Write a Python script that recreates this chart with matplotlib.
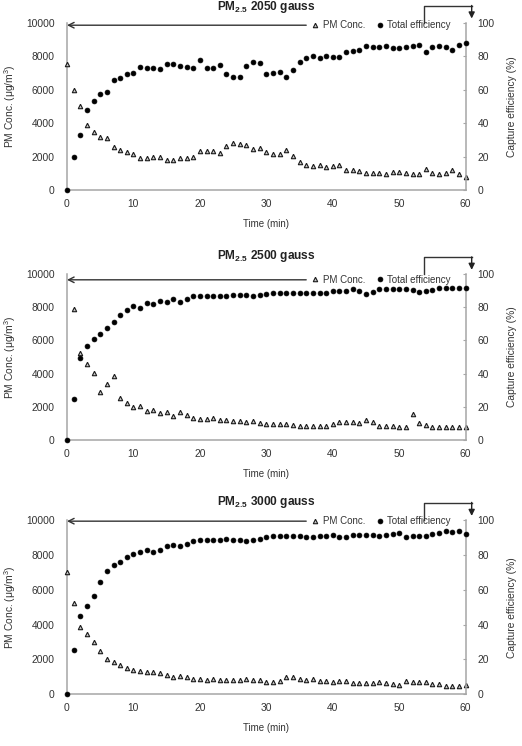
import numpy as np
import matplotlib
matplotlib.use("Agg")
from matplotlib import pyplot as plt

plt.rcParams["font.family"] = ["Liberation Sans", "DejaVu Sans"]
plt.rcParams["mathtext.fontset"] = "custom"
plt.rcParams["mathtext.rm"] = "Liberation Sans"
plt.rcParams["mathtext.it"] = "Liberation Sans:italic"
plt.rcParams["mathtext.bf"] = "Liberation Sans:bold"

time_min = list(range(0, 61))

titles = ["2050 gauss", "2500 gauss", "3000 gauss"]

pm_2050 = [7550, 6000, 5000, 3860, 3450, 3170, 3080, 2550, 2420, 2260, 2170,
	1930, 1930, 1980, 2000, 1780, 1780, 1890, 1890, 1980, 2340,
	2340, 2340, 2230, 2610, 2780, 2720, 2680, 2450, 2490, 2250,
	2170, 2130, 2370, 2050, 1690, 1510, 1450, 1510, 1390, 1450,
	1510, 1220, 1200, 1120, 1000, 1040, 1000, 980, 1080, 1080,
	1040, 980, 940, 1240, 1020, 980, 1000, 1180, 940, 800]
eff_2050 = [0, 20, 33, 48, 53.4, 57.2, 58.4, 65.6, 67.1, 69.3, 69.7,
	73.4, 73.1, 72.7, 72.3, 75.2, 75.2, 74.1, 73.7, 73.1, 78.0,
	73.1, 73.1, 74.5, 69.5, 67.6, 67.7, 73.9, 76.5, 76.1, 69.3,
	69.7, 70.5, 67.7, 71.7, 76.5, 79.1, 79.9, 78.9, 80.3, 79.7,
	79.3, 82.7, 83.1, 83.7, 85.9, 85.5, 85.5, 86.3, 84.9, 84.9,
	85.5, 86.3, 86.7, 82.7, 85.5, 86.3, 85.5, 83.9, 86.7, 88.0]

pm_2500 = [np.nan, 7890, 5260, 4560, 4020, 2890, 3370, 3840, 2550, 2250, 2010,
	2030, 1770, 1830, 1650, 1690, 1470, 1690, 1490, 1310, 1290,
	1290, 1350, 1180, 1180, 1140, 1120, 1100, 1120, 1020, 960,
	940, 960, 940, 920, 840, 840, 840, 840, 840, 940,
	1100, 1100, 1100, 1000, 1180, 1100, 840, 840, 840, 800,
	760, 1590, 1000, 900, 800, 760, 760, 760, 760, 760]
eff_2500 = [0, 24.7, 49.6, 56.4, 61.0, 64.1, 67.5, 71.3, 75.3, 78.3, 80.5,
	79.7, 82.5, 81.9, 83.9, 83.3, 85.1, 83.3, 84.9, 86.5, 86.9,
	86.9, 86.7, 86.7, 86.9, 87.1, 87.6, 87.6, 86.9, 87.1, 87.8,
	88.8, 88.4, 88.4, 88.4, 88.8, 88.4, 88.4, 88.4, 88.4, 89.8,
	89.8, 89.8, 91.0, 90.0, 87.8, 89.4, 90.8, 90.8, 90.8, 91.2,
	91.2, 90.4, 89.0, 89.8, 90.6, 91.4, 91.4, 91.4, 91.4, 91.4]

pm_3000 = [7000, 5220, 3860, 3450, 3010, 2460, 2020, 1820, 1670, 1480, 1380,
	1310, 1250, 1290, 1210, 1070, 1000, 1040, 960, 840, 840,
	810, 840, 810, 810, 810, 830, 840, 810, 790, 710,
	670, 750, 1000, 960, 840, 830, 840, 730, 730, 690,
	730, 730, 630, 610, 650, 650, 670, 650, 580, 520,
	730, 690, 670, 670, 600, 580, 440, 480, 480, 540]
eff_3000 = [0, 25.5, 44.7, 50.9, 56.4, 64.7, 71.0, 74.1, 76.0, 78.7, 80.4,
	81.6, 82.9, 82.0, 82.9, 85.0, 85.8, 85.2, 86.6, 88.3, 88.5,
	88.5, 88.5, 88.5, 89.1, 88.7, 88.7, 88.3, 88.9, 89.4, 90.2,
	91.0, 90.8, 90.8, 90.8, 91.0, 90.6, 90.4, 91.0, 91.0, 91.4,
	90.4, 90.4, 91.6, 91.7, 91.6, 91.4, 90.8, 91.6, 92.3, 92.5,
	90.2, 90.8, 91.0, 90.8, 91.9, 92.7, 93.7, 93.5, 93.7, 92.3]

pm_series = [pm_2050, pm_2500, pm_3000]
eff_series = [eff_2050, eff_2500, eff_3000]

TEXT = "#333333"
SPINE = "#a6a6a6"

W, H = 522, 746
fig = plt.figure(figsize=(W / 100, H / 100), dpi=100)

# axes boxes in pixels: (top, bottom)
boxes = [(22.7, 190), (274, 440), (520.3, 694)]
left_px, right_px = 67, 465.7
legend_y = [0.985, 0.965, 0.995]
title_off = [11, 13, 13]

for i in range(3):
	top, bottom = boxes[i]
	ax = fig.add_axes([left_px / W, (H - bottom) / H, (right_px - left_px) / W, (bottom - top) / H])
	ax2 = ax.twinx()

	ax.set_xlim(0, 60)
	ax.set_ylim(0, 10000)
	ax2.set_ylim(0, 100)
	ax.set_xticks([0, 10, 20, 30, 40, 50, 60])
	ax.set_yticks([0, 2000, 4000, 6000, 8000, 10000])
	ax2.set_yticks([0, 20, 40, 60, 80, 100])

	pm_line, = ax.plot(time_min, pm_series[i], linestyle="none", marker="^", ms=3.2,
		mfc="#c8c8c8", mec="#1a1a1a", mew=0.8, clip_on=False, zorder=3, label="PM Conc.")
	eff_line, = ax2.plot(time_min, eff_series[i], linestyle="none", marker="o", ms=3.5,
		mfc="black", mec="black", mew=0.5, clip_on=False, zorder=3, label="Total efficiency")

	for a in (ax, ax2):
		a.spines["top"].set_visible(False)
		for s in ("left", "right", "bottom"):
			a.spines[s].set_color(SPINE)
			a.spines[s].set_linewidth(1.1)
		a.patch.set_visible(False)
	ax.spines["right"].set_visible(False)
	ax2.spines["left"].set_visible(False)
	ax2.spines["bottom"].set_visible(False)

	ax.tick_params(axis="x", length=0, pad=6.5, labelsize=7.4, labelcolor=TEXT)
	ax.tick_params(axis="y", length=0, pad=9, labelsize=7.4, labelcolor=TEXT)
	ax2.tick_params(axis="y", direction="in", length=2.5, width=0.8, color=SPINE, pad=8.5, labelsize=7.4, labelcolor=TEXT)

	ax.set_xlabel("Time (min)", fontsize=7.0, color=TEXT, labelpad=7)
	ax.set_ylabel("PM Conc. (μg/m$^3$)", fontsize=7.4, color=TEXT, labelpad=6)
	ax2.set_ylabel("Capture efficiency (%)", fontsize=7.4, color=TEXT, labelpad=9)

	ax.annotate(r"PM$_{\mathbf{2.5}}$ " + titles[i], xy=(0.5, 1), xycoords="axes fraction",
		xytext=(0, title_off[i]), textcoords="offset points", ha="center", va="center",
		fontsize=8.6, fontweight="bold", color="#222222")

	ly = legend_y[i]
	ax.legend(handles=[pm_line, eff_line], loc="center right", bbox_to_anchor=(0.975, ly),
		ncol=2, frameon=False, fontsize=7.0, handlelength=0.8, handletextpad=0.4,
		columnspacing=1.1, borderpad=0, labelcolor=TEXT)

	# arrow to the left axis
	ax.annotate("", xy=(0.0, ly), xycoords="axes fraction", xytext=(0.60, ly),
		arrowprops=dict(arrowstyle="->", color="#333333", lw=1.0, mutation_scale=10,
			shrinkA=0, shrinkB=0))

	# bent arrow to the right axis
	xv, xr, yb, yt, ytip = 0.895, 1.015, 1.0, 1.10, 1.025
	ax.plot([xv, xv, xr], [yb, yt, yt], color="#333333", lw=1.0, transform=ax.transAxes, clip_on=False)
	ax.annotate("", xy=(xr, ytip), xycoords="axes fraction", xytext=(xr, yt + 0.003),
		arrowprops=dict(arrowstyle="-|>", color="#222222", lw=1.0, mutation_scale=9,
			shrinkA=0, shrinkB=0))

plt.savefig("out.png", dpi=100)
